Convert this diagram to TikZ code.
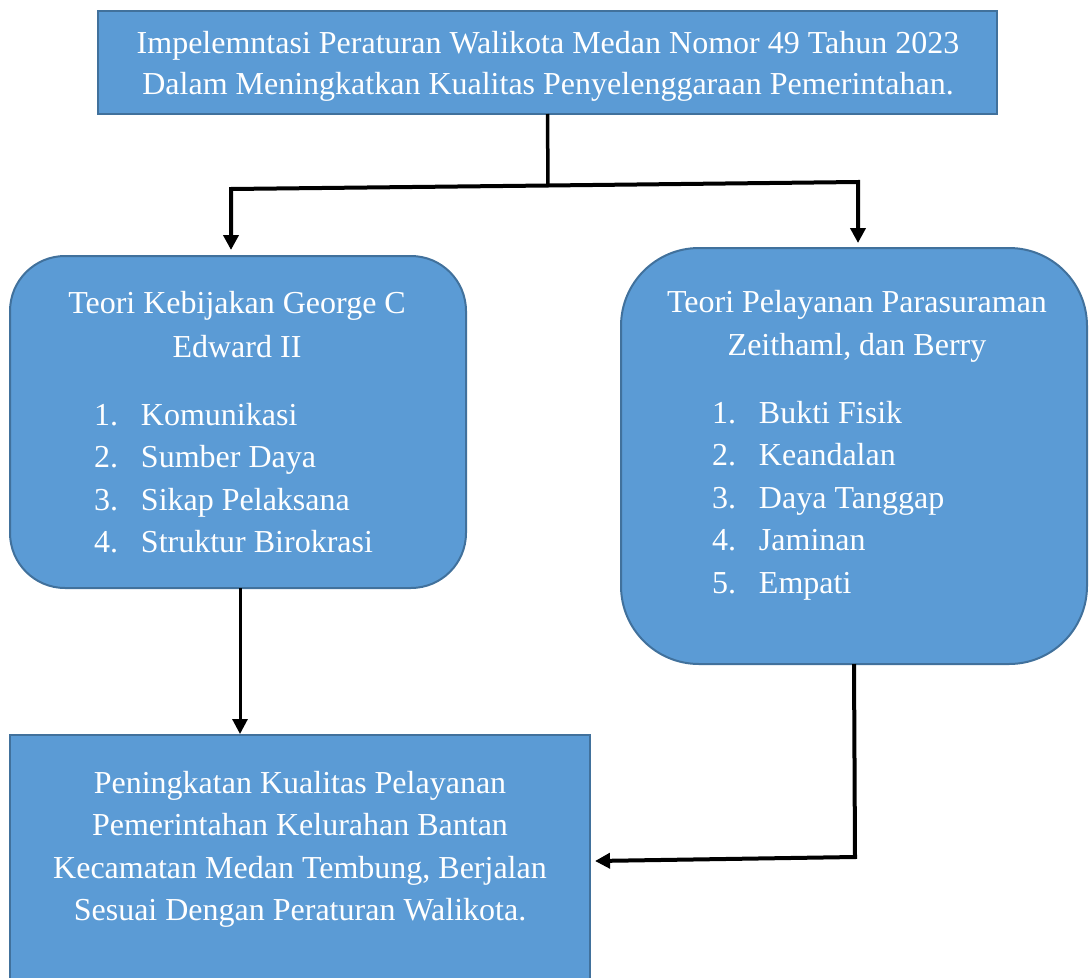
\documentclass[tikz,border=0pt]{standalone}
\usepackage{fontspec}
\setmainfont{Liberation Serif}
\usetikzlibrary{arrows.meta}
\definecolor{boxfill}{HTML}{5B9BD5}
\definecolor{boxline}{HTML}{41719C}
\newcommand\lstitem[2]{\makebox[47pt][l]{#1}#2}
\begin{document}
\begin{tikzpicture}[x=1pt,y=-1pt,
  box/.style={draw=boxline, fill=boxfill, line width=2pt, inner sep=0pt, outer sep=0pt},
  txt/.style={text=white, inner sep=0pt, outer sep=0pt, font=\fontsize{32}{42.5}\selectfont},
  conn/.style={line width=4pt, line join=miter},
  arr/.style={conn, -{Triangle[length=15pt,width=15pt]}}]
\useasboundingbox (0,0) rectangle (1089,977);

% boxes
\node[box, minimum width=899pt, minimum height=103pt] (top) at (547.5,62.5) {};
\node[box, rounded corners=55pt, minimum width=456pt, minimum height=332pt] (lft) at (238,422) {};
\node[box, rounded corners=78pt, minimum width=466pt, minimum height=416pt] (rgt) at (854,456) {};
\node[box, minimum width=580pt, minimum height=270pt] (bot) at (300,870) {};

% texts
\node[txt, anchor=base, font=\fontsize{32}{41}\selectfont] (toptxt) at (548,53)
  {\begin{tabular}[t]{@{}c@{}}Impelemntasi Peraturan Walikota Medan Nomor 49 Tahun 2023\\
   Dalam Meningkatkan Kualitas Penyelenggaraan Pemerintahan.\end{tabular}};
\node[txt, anchor=base, font=\fontsize{32}{44}\selectfont] (ltitle) at (237,313)
  {\begin{tabular}[t]{@{}c@{}}Teori Kebijakan George C\\ Edward II\end{tabular}};
\node[txt, anchor=base west] (llist) at (94,425)
  {\begin{tabular}[t]{@{}l@{}}\lstitem{1.}{Komunikasi}\\ \lstitem{2.}{Sumber Daya}\\
   \lstitem{3.}{Sikap Pelaksana}\\ \lstitem{4.}{Struktur Birokrasi}\end{tabular}};
\node[txt, anchor=base, font=\fontsize{32}{43}\selectfont] (rtitle) at (857,312)
  {\begin{tabular}[t]{@{}c@{}}Teori Pelayanan Parasuraman\\ Zeithaml, dan Berry\end{tabular}};
\node[txt, anchor=base west] (rlist) at (712,423)
  {\begin{tabular}[t]{@{}l@{}}\lstitem{1.}{Bukti Fisik}\\ \lstitem{2.}{Keandalan}\\
   \lstitem{3.}{Daya Tanggap}\\ \lstitem{4.}{Jaminan}\\ \lstitem{5.}{Empati}\end{tabular}};
\node[txt, anchor=base] (bottxt) at (300,793)
  {\begin{tabular}[t]{@{}c@{}}Peningkatan Kualitas Pelayanan\\ Pemerintahan Kelurahan Bantan\\
   Kecamatan Medan Tembung, Berjalan\\ Sesuai Dengan Peraturan Walikota.\end{tabular}};

% connectors
\coordinate (jl) at (231,189);
\coordinate (jr) at (858,182);
\coordinate (jm) at (548,185.5);
\coordinate (rb) at (855,857);
\coordinate (ra) at (595,861);
\draw[conn, line width=3.5pt] (top.south) -- (jm);
\draw[arr, shorten >=6pt] (jm) -- (jl) -- (jl |- lft.north);
\draw[arr, shorten >=5pt] (jm) -- (jr) -- (jr |- rgt.north);
\draw[arr, line width=3pt, shorten >=1pt] ([xshift=2pt]lft.south) -- ([xshift=2pt]lft.south |- bot.north);
\draw[arr] (rgt.south) -- (rb) -- (ra);
\end{tikzpicture}
\end{document}
